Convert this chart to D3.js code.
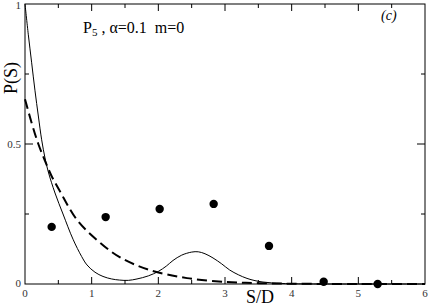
<!DOCTYPE html>
<html>
<head>
<meta charset="utf-8">
<script src="https://cdn.jsdelivr.net/npm/d3@7"></script>
<style>
  body { margin: 0; background: #fff; }
  svg text { font-family: 'Liberation Serif', 'DejaVu Serif', serif; }
</style>
</head>
<body>
<div id="chart"></div>
<script>
// simulation points (filled circles)
const dotS = [0.4, 1.21, 2.02, 2.83, 3.66, 4.48, 5.29];
const dotP = [0.204, 0.239, 0.268, 0.286, 0.136, 0.008, 0.0];

// solid curve
const solidS = [0, 0.05, 0.1, 0.15, 0.2, 0.25, 0.3, 0.35, 0.45, 0.57, 0.72, 0.85, 0.93, 1.05, 1.17, 1.3, 1.42, 1.55, 1.68, 1.85, 2.0, 2.12, 2.22, 2.35, 2.5, 2.6, 2.7, 2.82, 2.95, 3.07, 3.2, 3.33, 3.45, 3.57, 3.7, 3.85, 4.1, 4.5, 6];
const solidP = [1, 0.89, 0.79, 0.69, 0.6, 0.515, 0.45, 0.40, 0.325, 0.25, 0.16, 0.098, 0.068, 0.042, 0.027, 0.018, 0.014, 0.013, 0.018, 0.029, 0.045, 0.064, 0.084, 0.103, 0.114, 0.115, 0.108, 0.093, 0.072, 0.05, 0.033, 0.02, 0.012, 0.007, 0.004, 0.002, 0.0005, 0, 0];

// dashed curve
const dashS = [0, 0.1, 0.2, 0.3, 0.4, 0.52, 0.78, 1.08, 1.42, 1.87, 2.43, 3.03, 3.5, 4, 5, 6];
const dashP = [0.66, 0.575, 0.5, 0.44, 0.385, 0.333, 0.229, 0.157, 0.096, 0.05, 0.021, 0.007, 0.003, 0.001, 0, 0];

const xTicks = [0, 1, 2, 3, 4, 5, 6];
const yTickLabels = [[0, '0'], [0.5, '0.5'], [1, '1']];

const svgWidth = 429,
      svgHeight = 306;

const margin = { top: 4, right: 4, bottom: 22, left: 25 };
const width = svgWidth - margin.left - margin.right,
      height = svgHeight - margin.top - margin.bottom;

const svg = d3.select('#chart')
              .append('svg')
              .attr('width', svgWidth)
              .attr('height', svgHeight);

const g = svg.append('g')
             .attr('transform', `translate(${margin.left},${margin.top})`);

const x = d3.scaleLinear().domain([0, 6]).range([0, width]);
const y = d3.scaleLinear().domain([0, 1]).range([height, 0]);

// frame
g.append('rect')
  .attr('width', width)
  .attr('height', height)
  .attr('fill', 'none')
  .attr('stroke', '#000')
  .attr('stroke-width', 1);

// ticks, pointing inward on all four sides
const xMinor = d3.range(0.5, 6, 1);
const yMinor = [0.25, 0.75];

const tickG = g.append('g').attr('stroke', '#000').attr('stroke-width', 1);
const addTicks = (vals, len, horizontal) => {
  vals.forEach(v => {
    if (horizontal) {
      tickG.append('line').attr('x1', x(v)).attr('x2', x(v)).attr('y1', height).attr('y2', height - len);
      tickG.append('line').attr('x1', x(v)).attr('x2', x(v)).attr('y1', 0).attr('y2', len);
    } else {
      tickG.append('line').attr('y1', y(v)).attr('y2', y(v)).attr('x1', 0).attr('x2', len);
      tickG.append('line').attr('y1', y(v)).attr('y2', y(v)).attr('x1', width).attr('x2', width - len);
    }
  });
};
addTicks(xTicks.slice(1, -1), 7, true);
addTicks(xMinor, 4, true);
addTicks([0.5], 8, false);
addTicks(yMinor, 4, false);

// tick labels
g.append('g')
  .selectAll('text')
  .data(xTicks)
  .enter()
  .append('text')
  .attr('x', d => x(d))
  .attr('y', height + 13)
  .attr('text-anchor', 'middle')
  .attr('font-size', 11)
  .attr('fill', '#333')
  .text(d => d);

g.append('g')
  .selectAll('text')
  .data(yTickLabels)
  .enter()
  .append('text')
  .attr('x', -4)
  .attr('y', d => y(d[0]) + (d[0] === 0 ? 3 : d[0] === 1 ? 5 : 4))
  .attr('text-anchor', 'end')
  .attr('font-size', 11)
  .attr('fill', '#333')
  .text(d => d[1]);

// curves
const line = d3.line()
               .x(d => x(d[0]))
               .y(d => y(d[1]))
               .curve(d3.curveCatmullRom.alpha(0.5));

g.append('path')
  .datum(dashS.map((s, i) => [s, dashP[i]]))
  .attr('d', line)
  .attr('fill', 'none')
  .attr('stroke', '#000')
  .attr('stroke-width', 2)
  .attr('stroke-dasharray', '10,5');

g.append('path')
  .datum(solidS.map((s, i) => [s, solidP[i]]))
  .attr('d', line)
  .attr('fill', 'none')
  .attr('stroke', '#000')
  .attr('stroke-width', 1);

// dots
g.append('g')
  .selectAll('circle')
  .data(dotS.map((s, i) => [s, dotP[i]]))
  .enter()
  .append('circle')
  .attr('cx', d => x(d[0]))
  .attr('cy', d => y(d[1]))
  .attr('r', 4.2)
  .attr('fill', '#000');

// axis labels
svg.append('text')
   .attr('transform', 'translate(17,78) rotate(-90)')
   .attr('text-anchor', 'middle')
   .attr('font-size', 18)
   .text('P(S)');

svg.append('text')
   .attr('x', 260)
   .attr('y', 303)
   .attr('text-anchor', 'middle')
   .attr('font-size', 18)
   .text('S/D');

// annotation
const note = svg.append('text')
                .attr('x', 83)
                .attr('y', 33)
                .attr('font-size', 16);
note.append('tspan').text('P');
note.append('tspan').attr('font-size', 11).attr('dy', 3).text('5');
note.append('tspan').attr('dy', -3).text('\u00a0, \u03b1=0.1\u00a0\u00a0m=0');

svg.append('text')
   .attr('x', 381)
   .attr('y', 20)
   .attr('font-size', 14)
   .attr('font-style', 'italic')
   .text('(c)');
</script>
</body>
</html>
